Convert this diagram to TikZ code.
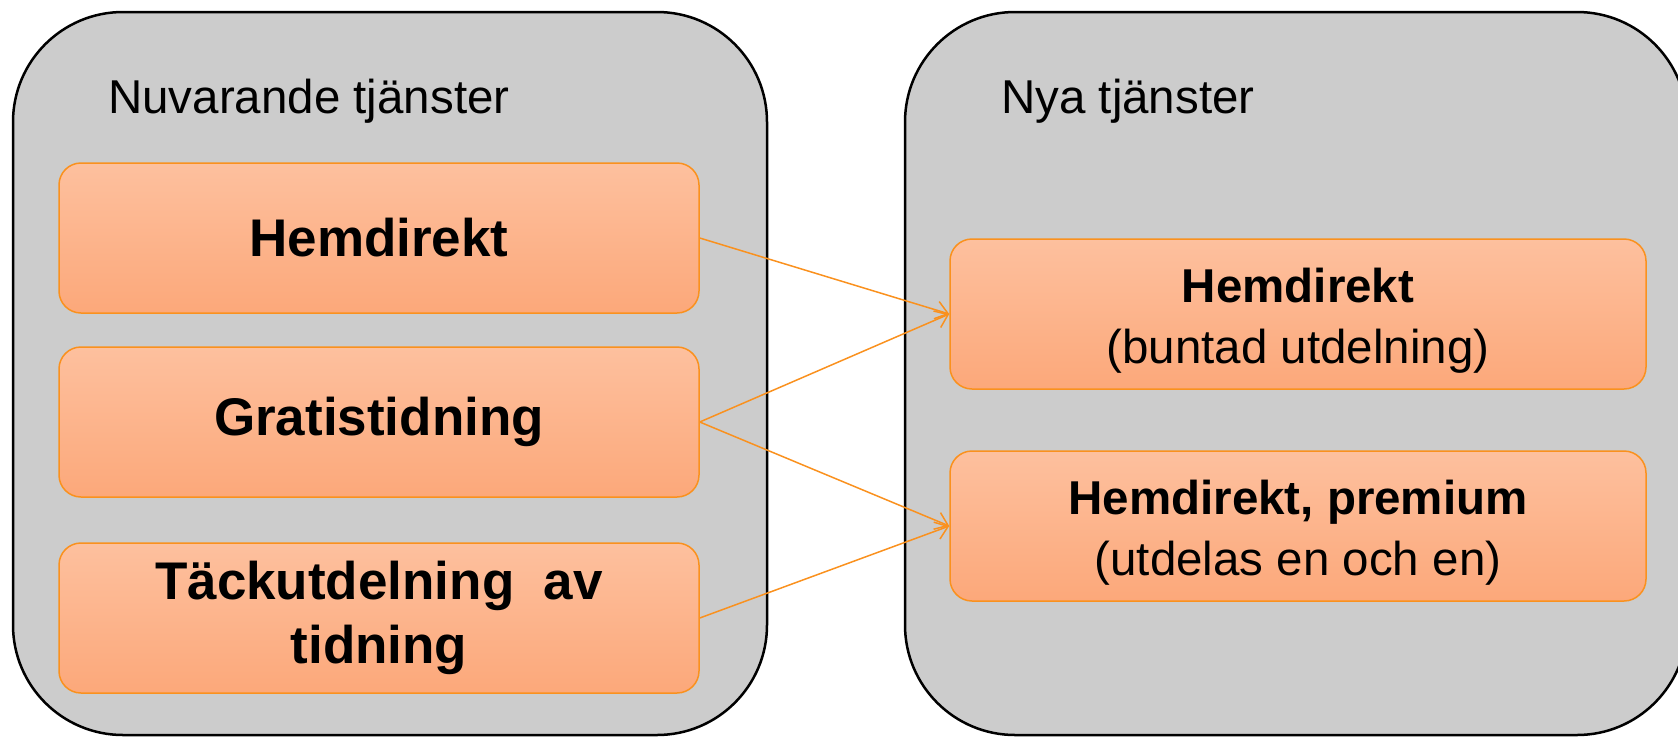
\documentclass[tikz,border=0pt]{standalone}
\usepackage{fontspec}
\setmainfont{Liberation Sans}
\usetikzlibrary{arrows.meta}
\definecolor{grayfill}{RGB}{204,204,204}
\definecolor{orline}{RGB}{250,145,30}
\definecolor{ortop}{RGB}{253,192,158}
\definecolor{orbot}{RGB}{252,168,122}
\tikzset{
  panel/.style={draw=black, line width=2.5pt, fill=grayfill, rounded corners=110pt, inner sep=0pt},
  svcbox/.style={draw=orline, line width=1.5pt, top color=ortop, bottom color=orbot, rounded corners=22pt, inner sep=0pt, align=center, text=black},
  leftbox/.style={svcbox, minimum width=640pt, minimum height=150pt, font=\fontsize{53}{64}\selectfont\bfseries},
  rightbox/.style={svcbox, minimum width=696pt, minimum height=150pt},
  righttext/.style={inner sep=0pt, align=center, font=\fontsize{47.5}{61}\selectfont},
  title/.style={anchor=base west, inner sep=0pt, font=\fontsize{47.5}{57}\selectfont},
  conn/.style={draw=orline, line width=1.5pt, -{Straight Barb[length=12pt,width=18pt]}}
}
\begin{document}
\begin{tikzpicture}[x=1pt,y=-1pt]
\useasboundingbox (0,0) rectangle (1678,737);
\clip (0,0) rectangle (1678,737);
\node[panel, minimum width=754pt, minimum height=723pt] (pl) at (390,373.5) {};
\node[panel, minimum width=782pt, minimum height=723pt] (pr) at (1296,373.5) {};
\node[title] (tl) at (108,113) {Nuvarande tjänster};
\node[title] (tr) at (1001,113) {Nya tjänster};
\node[leftbox] (h1) at (379,238) {Hemdirekt};
\node[leftbox] (g1) at (379,422) {Gratistidning};
\node[leftbox] (t1) at (379,618) {Täckutdelning\ \ av\\tidning};
\node[rightbox] (r1) at (1298,314) {};
\node[righttext] (r1t) at ([yshift=-7pt]r1.center) {\textbf{Hemdirekt}\\(buntad utdelning)};
\node[rightbox] (r2) at (1298,526) {};
\node[righttext] (r2t) at ([yshift=-7pt]r2.center) {\textbf{Hemdirekt, premium}\\(utdelas en och en)};
\draw[conn] (h1.east) -- (r1.west);
\draw[conn] (g1.east) -- (r1.west);
\draw[conn] (g1.east) -- (r2.west);
\draw[conn] (t1.east) -- (r2.west);
\end{tikzpicture}
\end{document}
